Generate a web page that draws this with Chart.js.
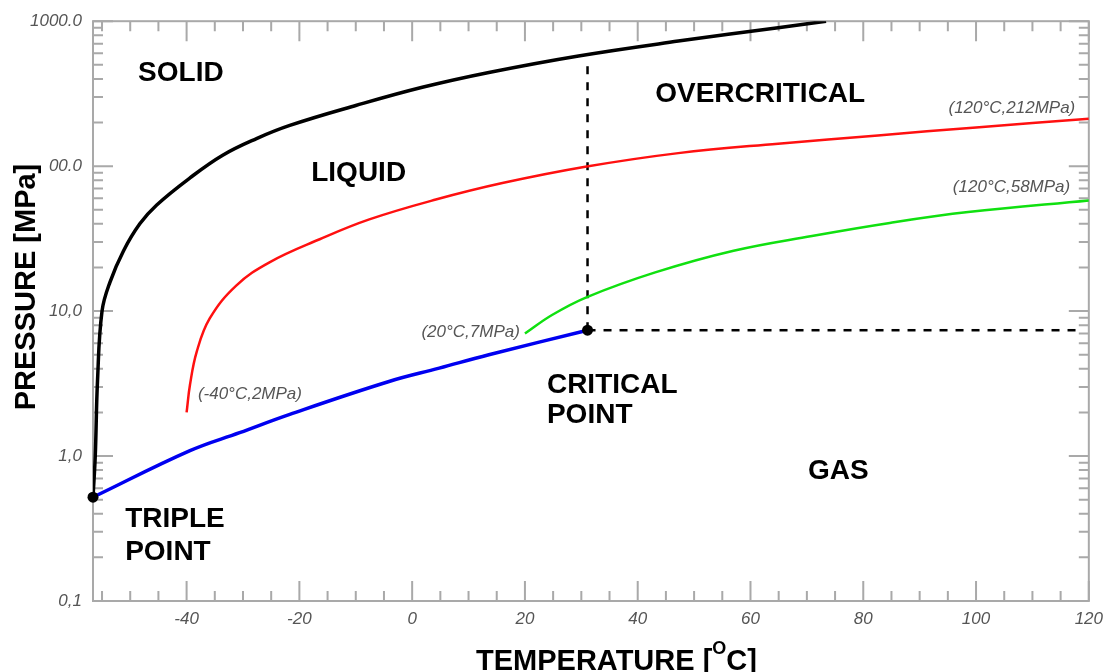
<!DOCTYPE html>
<html>
<head>
<meta charset="utf-8">
<title>CO2 phase diagram</title>
<script src="https://cdn.jsdelivr.net/npm/chart.js@4.4.1/dist/chart.umd.min.js"></script>
<style>
  html, body { margin: 0; padding: 0; background: #fff; }
  #wrap { width: 1111px; height: 672px; position: relative; }
</style>
</head>
<body>
<div id="wrap"><canvas id="phase"></canvas></div>
<script>
// ---- Data: temperature [°C] / pressure [MPa] ----
const meltT = [-56.6, -56.2, -55.8, -55.0, -53.6, -51.2, -48.3, -45.3, -39.4, -33.6, -27.6, -21.7, -10.0, 1.8, 13.6, 29.5, 47.2, 64.9, 73.4];
const meltP = [0.52, 1.0, 3.3, 10, 15.8, 26, 40, 54, 83, 119, 155, 191, 262, 350, 443, 576, 729, 902, 1000];

const vapT = [-56.6, -39.4, -30.6, -21.7, -4.1, 4.8, 13.6, 31.1];
const vapP = [0.52, 1.09, 1.45, 1.94, 3.27, 4.04, 5.0, 7.38];

const liqT = [-40, -39.4, -38.2, -35.9, -31.2, -25.3, -16.4, -7.6, 4.2, 16.0, 30.7, 47.2, 64.9, 82.6, 100, 120];
const liqP = [2.0, 3.1, 5.25, 8.9, 15, 21.7, 31.3, 42.9, 58.8, 76.4, 99, 123, 143, 163, 185, 212];

const gasT = [20, 24.8, 31.0, 43.1, 57.0, 70.9, 84.7, 98.6, 120];
const gasP = [7.0, 9.4, 12.5, 18.5, 26.1, 33, 40.6, 48.2, 58];

const triplePoint   = [-56.6, 0.52];
const criticalPoint = [31.1, 7.38];
const critVertTop   = 535;
const critHorizEnd  = 118.2;

const xTickValues = [-40, -20, 0, 20, 40, 60, 80, 100, 120];
const yTickValues = [0.1, 1, 10, 100, 1000];
const yTickLabels = ['0,1', '1,0', '10,0', '00.0', '1000.0'];

// ---- Annotations ----
const regionLabels = ['SOLID', 'LIQUID', 'OVERCRITICAL', 'CRITICAL', 'POINT', 'TRIPLE', 'POINT', 'GAS'];
const regionAt     = [[-48.6, 387], [-17.9, 78.8], [43.1, 278], [23.9, 2.71], [23.9, 1.69], [-50.9, 0.323], [-50.9, 0.192], [70.2, 0.70]];

const valueLabels = ['(120°C,212MPa)', '(120°C,58MPa)', '(20°C,7MPa)', '(-40°C,2MPa)'];
const valueAt     = [[117.6, 234], [116.7, 66.2], [19.1, 6.65], [-38.0, 2.47]];
const valueAlign  = ['right', 'right', 'right', 'left'];

const FONT = "'Liberation Sans', Arial, sans-serif";
const AXIS_GREY = '#a9a9a9';
const LABEL_GREY = '#555';

const pts = (xs, ys) => xs.map((x, i) => ({ x, y: ys[i] }));

// ---- Frame + inward ticks ----
const frameTicks = {
  id: 'frameTicks',
  beforeDatasetsDraw(chart) {
    const { ctx, chartArea: a, scales: { x, y } } = chart;
    ctx.save();
    ctx.strokeStyle = AXIS_GREY;
    ctx.lineWidth = 2;
    ctx.strokeRect(a.left, a.top, a.right - a.left, a.bottom - a.top);
    ctx.beginPath();
    for (let t = -55; t <= 120; t += 5) {
      const px = x.getPixelForValue(t);
      const len = t % 20 === 0 ? 20 : 10;
      ctx.moveTo(px, a.bottom); ctx.lineTo(px, a.bottom - len);
      ctx.moveTo(px, a.top);    ctx.lineTo(px, a.top + len);
    }
    for (let d = -1; d <= 3; d++) {
      for (let m = 1; m <= 9; m++) {
        const v = m * Math.pow(10, d);
        if (v > 1000) break;
        const py = y.getPixelForValue(v);
        const len = m === 1 ? 20 : 10;
        ctx.moveTo(a.left, py);  ctx.lineTo(a.left + len, py);
        ctx.moveTo(a.right, py); ctx.lineTo(a.right - len, py);
      }
    }
    ctx.stroke();
    ctx.restore();
  }
};

// ---- Text: regions, values, axis titles ----
const annotations = {
  id: 'annotations',
  afterDatasetsDraw(chart) {
    const { ctx, scales: { x, y } } = chart;
    ctx.save();
    ctx.textBaseline = 'alphabetic';

    ctx.fillStyle = '#000';
    ctx.font = `bold 28px ${FONT}`;
    ctx.textAlign = 'left';
    regionLabels.forEach((txt, i) => {
      ctx.fillText(txt, x.getPixelForValue(regionAt[i][0]), y.getPixelForValue(regionAt[i][1]));
    });

    ctx.fillStyle = LABEL_GREY;
    ctx.font = `italic 17px ${FONT}`;
    valueLabels.forEach((txt, i) => {
      ctx.textAlign = valueAlign[i];
      ctx.fillText(txt, x.getPixelForValue(valueAt[i][0]), y.getPixelForValue(valueAt[i][1]));
    });

    // y title
    ctx.fillStyle = '#000';
    ctx.font = `bold 29px ${FONT}`;
    ctx.save();
    ctx.translate(35, 287);
    ctx.rotate(-Math.PI / 2);
    ctx.textAlign = 'center';
    ctx.fillText('PRESSURE [MPa]', 0, 0);
    ctx.restore();

    // x title with superscript O
    ctx.textAlign = 'left';
    let cx = 476;
    const part1 = 'TEMPERATURE [';
    ctx.font = `bold 29px ${FONT}`;
    ctx.fillText(part1, cx, 670);
    cx += ctx.measureText(part1).width;
    ctx.font = `bold 18px ${FONT}`;
    ctx.fillText('O', cx, 654);
    cx += ctx.measureText('O').width;
    ctx.font = `bold 29px ${FONT}`;
    ctx.fillText('C]', cx, 670);
    ctx.restore();
  }
};

const line = { showLine: true, pointRadius: 0, fill: false, tension: 0.4 };

new Chart(document.getElementById('phase'), {
  type: 'scatter',
  data: {
    datasets: [
      { label: 'points', data: [triplePoint, criticalPoint].map(p => ({ x: p[0], y: p[1] })),
        showLine: false, pointRadius: 5.5, pointBackgroundColor: '#000', pointBorderWidth: 0, clip: false },
      { label: 'melting', data: pts(meltT, meltP), borderColor: '#000', borderWidth: 3.5, ...line },
      { label: 'vapour', data: pts(vapT, vapP), borderColor: '#0000f0', borderWidth: 3.5, ...line },
      { label: 'liquid', data: pts(liqT, liqP), borderColor: '#ff1010', borderWidth: 2.5, ...line },
      { label: 'gas', data: pts(gasT, gasP), borderColor: '#10e010', borderWidth: 2.5, ...line },
      { label: 'crit-v', data: pts([criticalPoint[0], criticalPoint[0]], [criticalPoint[1], critVertTop]),
        borderColor: '#000', borderWidth: 2.5, borderDash: [8, 8], showLine: true, pointRadius: 0 },
      { label: 'crit-h', data: pts([criticalPoint[0], critHorizEnd], [criticalPoint[1], criticalPoint[1]]),
        borderColor: '#000', borderWidth: 2.5, borderDash: [8, 8], showLine: true, pointRadius: 0 }
    ]
  },
  options: {
    responsive: true,
    maintainAspectRatio: false,
    animation: false,
    layout: { padding: { left: 0, right: 19, top: 17, bottom: 0 } },
    plugins: { legend: { display: false }, tooltip: { enabled: false } },
    scales: {
      x: {
        type: 'linear', min: -56.6, max: 120,
        afterBuildTicks: s => { s.ticks = xTickValues.map(v => ({ value: v })); },
        afterFit: s => { s.height = 71; },
        ticks: { color: LABEL_GREY, font: { family: FONT, size: 17, style: 'italic' }, padding: 8, maxRotation: 0, autoSkip: false },
        grid: { display: false, drawTicks: false },
        border: { display: false }
      },
      y: {
        type: 'logarithmic', min: 0.1, max: 1000,
        afterBuildTicks: s => { s.ticks = yTickValues.map(v => ({ value: v, major: true })); },
        afterFit: s => { s.width = 93; },
        ticks: { color: LABEL_GREY, font: { family: FONT, size: 17, style: 'italic' }, padding: 11, autoSkip: false,
                 callback: v => yTickLabels[yTickValues.indexOf(v)] },
        grid: { display: false, drawTicks: false },
        border: { display: false }
      }
    }
  },
  plugins: [frameTicks, annotations]
});
</script>
</body>
</html>
